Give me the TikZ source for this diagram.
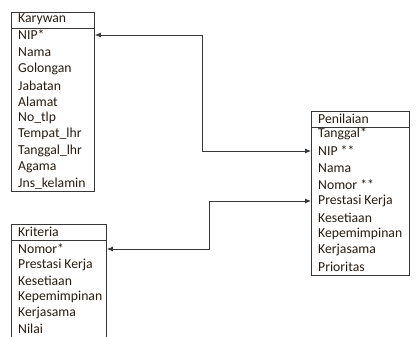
\documentclass[tikz,border=0pt]{standalone}
\usepackage{fontspec}
\setmainfont{Carlito}
\usetikzlibrary{arrows.meta}
\definecolor{inkc}{RGB}{38,28,18}
\definecolor{linec}{RGB}{55,55,55}
\tikzset{
  tbl/.style={draw=linec, line width=0.9pt, inner sep=0pt, anchor=north west},
  field/.style={anchor=west, inner sep=0pt, text=inkc, font=\fontsize{13.7}{14}\selectfont},
  link/.style={draw=linec, line width=0.8pt, {Latex[length=6pt,width=5pt]}-{Latex[length=6pt,width=5pt]}},
}
\begin{document}
\begin{tikzpicture}[x=1pt,y=-1pt]
\useasboundingbox (0,0) rectangle (416,337);
\clip (0,0) rectangle (416,337);

% Karywan table
\node[tbl, minimum width=83pt, minimum height=16pt] (kh) at (11,12) {};
\node[tbl, minimum width=83pt, minimum height=163pt] (kb) at (11,28) {};
\draw[linec, line width=1.2pt] (kh.south west) -- (kh.south east);
\node[field] (kt) at (18,19) {Karywan};
\node[field] (k1) at (18,35) {NIP*};
\node[field] (k2) at (18,52) {Nama};
\node[field] (k3) at (18,69) {Golongan};
\node[field] (k4) at (18,86) {Jabatan};
\node[field] (k5) at (18,102) {Alamat};
\node[field] (k6) at (18,118) {No\_tlp};
\node[field] (k7) at (18,134) {Tempat\_lhr};
\node[field] (k8) at (18,151) {Tanggal\_lhr};
\node[field] (k9) at (18,167) {Agama};
\node[field] (k10) at (18,184) {Jns\_kelamin};

% Penilaian table
\node[tbl, minimum width=98pt, minimum height=16pt] (ph) at (311,111) {};
\node[tbl, minimum width=98pt, minimum height=148pt] (pb) at (311,127) {};
\draw[linec, line width=1.2pt] (ph.south west) -- (ph.south east);
\node[field] (pt) at (318,119) {Penilaian};
\node[field] (p1) at (318,134) {Tanggal*};
\node[field] (p2) at (318,151) {NIP **};
\node[field] (p3) at (318,168) {Nama};
\node[field] (p4) at (318,185) {Nomor **};
\node[field] (p5) at (318,201) {Prestasi Kerja};
\node[field] (p6) at (318,218) {Kesetiaan};
\node[field] (p7) at (318,234) {Kepemimpinan};
\node[field] (p8) at (318,250) {Kerjasama};
\node[field] (p9) at (318,267) {Prioritas};

% Kriteria table (runs past the lower edge)
\node[tbl, minimum width=95pt, minimum height=16pt] (ch) at (11,224) {};
\node[tbl, minimum width=95pt, minimum height=130pt] (cb) at (11,240) {};
\draw[linec, line width=1.2pt] (ch.south west) -- (ch.south east);
\node[field] (ct) at (18,232) {Kriteria};
\node[field] (c1) at (18,249) {Nomor*};
\node[field] (c2) at (18,265) {Prestasi Kerja};
\node[field] (c3) at (18,281) {Kesetiaan};
\node[field] (c4) at (18,297) {Kepemimpinan};
\node[field] (c5) at (18,313) {Kerjasama};
\node[field] (c6) at (18,329) {Nilai};

% Relations
\coordinate (j1) at (202,0);
\coordinate (j2) at (209,0);
\draw[link] (kb.east |- k1) -| (j1 |- p2) -- (pb.west |- p2);
\draw[link] (cb.east |- c1) -| (j2 |- p5) -- (pb.west |- p5);
\end{tikzpicture}
\end{document}
